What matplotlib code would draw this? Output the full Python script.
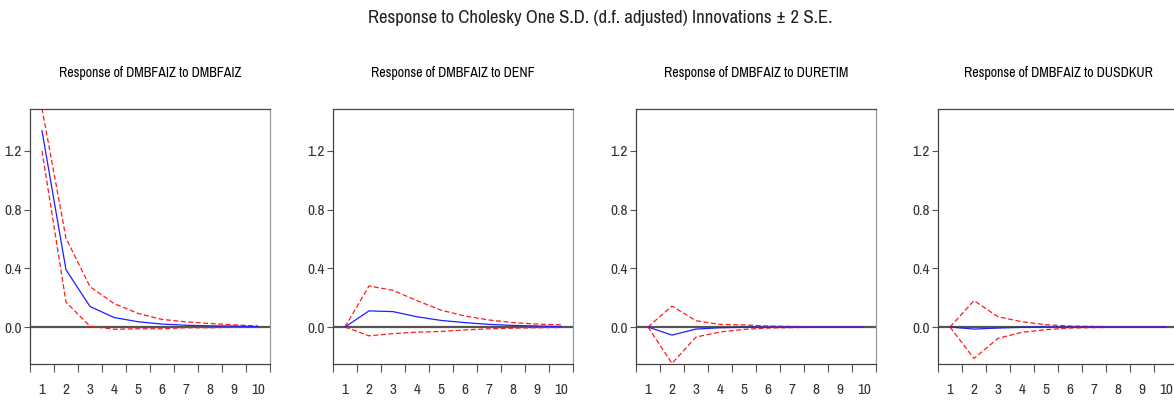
import numpy as np
import matplotlib.pyplot as plt

plt.rcParams['font.family'] = ['Liberation Sans Narrow', 'Archivo Narrow', 'PT Sans Narrow',
                               'Roboto Condensed', 'DejaVu Sans']

periods = np.arange(1, 11)

shocks = ['DMBFAIZ', 'DENF', 'DURETIM', 'DUSDKUR']

# response (blue) and +/- 2 S.E. bands (red dashed)
resp = [
    [1.338, 0.39, 0.14, 0.065, 0.036, 0.02, 0.012, 0.008, 0.006, 0.003],
    [0.0, 0.11, 0.105, 0.07, 0.045, 0.03, 0.018, 0.011, 0.007, 0.003],
    [0.0, -0.055, -0.014, -0.005, -0.002, 0.0, 0.0, 0.0, 0.0, 0.0],
    [0.0, -0.014, -0.007, -0.002, 0.0, 0.0, 0.0, 0.0, 0.0, 0.0],
]
upper = [
    [1.49, 0.605, 0.275, 0.16, 0.093, 0.052, 0.035, 0.024, 0.015, 0.007],
    [0.0, 0.28, 0.25, 0.18, 0.115, 0.075, 0.048, 0.03, 0.02, 0.015],
    [0.0, 0.143, 0.043, 0.018, 0.014, 0.007, 0.004, 0.002, 0.001, 0.0],
    [0.0, 0.18, 0.07, 0.036, 0.016, 0.007, 0.004, 0.002, 0.0, 0.0],
]
lower = [
    [1.2, 0.17, 0.005, -0.015, -0.012, -0.012, -0.005, -0.005, -0.002, 0.0],
    [0.0, -0.06, -0.045, -0.035, -0.03, -0.02, -0.012, -0.008, -0.005, -0.003],
    [0.0, -0.248, -0.068, -0.034, -0.016, -0.007, -0.004, -0.002, -0.001, 0.0],
    [0.0, -0.214, -0.077, -0.036, -0.018, -0.007, -0.004, -0.002, 0.0, 0.0],
]

fig = plt.figure(figsize=(11.74, 4.03), dpi=100)
fig.text(0.511, 0.955, 'Response to Cholesky One S.D. (d.f. adjusted) Innovations \u00b1 2 S.E.',
         ha='center', va='center', fontsize=13.5, color='#222222')

lefts = [30, 333, 636, 938]
for i, s in enumerate(shocks):
    ax = fig.add_axes([lefts[i] / 1174, 1 - 364 / 403, 240 / 1174, 255 / 403])
    ax.axhline(0, color='#555555', lw=1.6, zorder=1)
    ax.plot(periods, resp[i], color='#1f1fff', lw=0.9, zorder=3)
    ax.plot(periods, upper[i], color='#ff1a1a', lw=0.9, ls=(0, (4, 2)), zorder=2)
    ax.plot(periods, lower[i], color='#ff1a1a', lw=0.9, ls=(0, (4, 2)), zorder=2)
    ax.set_xlim(0.5, 10.5)
    ax.set_ylim(-0.252, 1.486)
    ax.set_yticks([0.0, 0.4, 0.8, 1.2])
    ax.set_yticklabels(['0.0', '0.4', '0.8', '1.2'])
    ax.set_xticks(np.arange(0.5, 11, 1))
    ax.set_xticklabels([])
    ax.set_xticks(periods, minor=True)
    ax.set_xticklabels([str(p) for p in periods], minor=True)
    ax.tick_params(axis='x', which='major', length=6, width=0.8, color='#555555', direction='out')
    ax.tick_params(axis='x', which='minor', length=0, pad=14, labelsize=11, labelcolor='#333333')
    ax.tick_params(axis='y', length=4, width=0.8, color='#555555', labelsize=11, pad=2,
                   labelcolor='#333333')
    for sp in ax.spines.values():
        sp.set_color('#444444')
        sp.set_linewidth(0.9)
    ax.spines['right'].set_color('#999999')
    ax.set_title('Response of DMBFAIZ to ' + s, fontsize=10, pad=23)

fig.savefig('out.png', dpi=100)
